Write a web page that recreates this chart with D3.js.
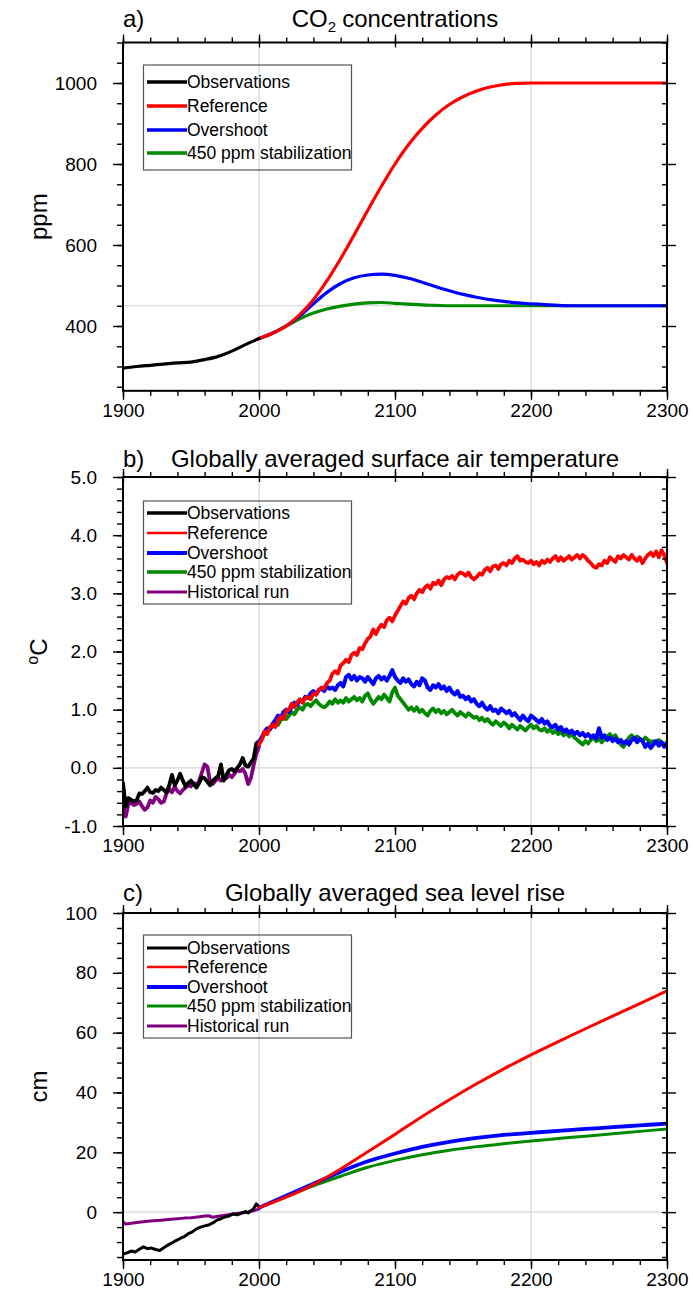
<!DOCTYPE html>
<html>
<head>
<meta charset="utf-8">
<script src="https://cdn.jsdelivr.net/npm/d3@7"></script>
<style>
  body { margin: 0; background: #fff; }
  svg { display: block; font-family: "Liberation Sans", Arial, Helvetica, sans-serif; }
</style>
</head>
<body>
<script>
/* ---------- a) CO2 concentrations (ppm) ---------- */
const co2ObsYears = [1900, 1910, 1920, 1930, 1940, 1950, 1960, 1970, 1980, 1990, 2000]
const co2Obs = [296, 300, 303, 306, 309, 311, 317, 325, 338, 354, 369]

const co2ScenYears = d3.range(2000, 2301, 10)
const co2Ref = [369, 382, 400, 428, 465, 512, 566, 625, 686, 745,
                800, 848, 888, 921, 947, 966, 980, 990, 996, 999,
                1000, 1000, 1000, 1000, 1000, 1000, 1000, 1000, 1000, 1000, 1000]
const co2Over = [369, 382, 400, 425, 455, 483, 505, 519, 526, 528,
                 525, 518, 508, 497, 487, 478, 471, 465, 461, 457,
                 455, 453, 451, 450, 450, 450, 450, 450, 450, 450, 450]
const co2Stab = [369, 383, 400, 418, 432, 442, 449, 454, 457, 458,
                 456, 454, 452, 451, 450, 450, 450, 450, 450, 450,
                 450, 450, 450, 450, 450, 450, 450, 450, 450, 450, 450]

/* ---------- b) surface air temperature (deg C) ---------- */
const tempPastYears = d3.range(1900, 2001, 2)
const tempObs = [-0.26, -0.66, -0.52, -0.55, -0.58, -0.56, -0.44, -0.45, -0.40, -0.34,
                 -0.42, -0.43, -0.38, -0.40, -0.34, -0.38, -0.42, -0.30, -0.12, -0.30,
                 -0.22, -0.10, -0.22, -0.32, -0.26, -0.22, -0.28, -0.34, -0.26, -0.16,
                 -0.18, -0.24, -0.30, -0.22, -0.18, -0.14, 0.06, -0.22, -0.12, -0.04,
                 -0.02, -0.06, 0.00, 0.06, 0.17, 0.04, 0.02, 0.09, 0.16, 0.42,
                 0.46]
const tempHist = [-0.34, -0.84, -0.62, -0.60, -0.64, -0.62, -0.58, -0.66, -0.72, -0.68,
                  -0.56, -0.60, -0.50, -0.54, -0.60, -0.58, -0.44, -0.36, -0.42, -0.32,
                  -0.40, -0.44, -0.38, -0.34, -0.30, -0.32, -0.26, -0.30, -0.22, -0.08,
                  0.06, 0.02, -0.24, -0.28, -0.22, -0.18, -0.22, -0.14, -0.18, -0.12,
                  -0.16, -0.10, -0.04, -0.06, -0.02, -0.10, -0.28, -0.18, 0.04, 0.24,
                  0.36]

const tempScenYears = d3.range(2000, 2301, 2)
const tempRef = [0.40, 0.48, 0.62, 0.58, 0.70, 0.74, 0.70, 0.82, 0.88, 0.84,
                 0.98, 1.00, 1.10, 1.04, 1.12, 1.18, 1.12, 1.20, 1.22, 1.18,
                 1.28, 1.26, 1.34, 1.38, 1.36, 1.46, 1.50, 1.62, 1.66, 1.62,
                 1.76, 1.80, 1.86, 1.82, 1.94, 1.98, 1.94, 2.06, 2.04, 2.14,
                 2.22, 2.26, 2.38, 2.30, 2.40, 2.46, 2.42, 2.54, 2.58, 2.52,
                 2.62, 2.70, 2.78, 2.86, 2.82, 2.92, 2.96, 2.90, 3.00, 3.06,
                 3.02, 3.10, 3.14, 3.08, 3.18, 3.16, 3.22, 3.14, 3.24, 3.28,
                 3.26, 3.30, 3.24, 3.32, 3.36, 3.34, 3.30, 3.36, 3.28, 3.24,
                 3.28, 3.34, 3.32, 3.40, 3.44, 3.38, 3.46, 3.48, 3.42, 3.50,
                 3.52, 3.48, 3.56, 3.52, 3.60, 3.64, 3.56, 3.58, 3.54, 3.52,
                 3.56, 3.50, 3.54, 3.48, 3.56, 3.52, 3.58, 3.54, 3.60, 3.64,
                 3.56, 3.62, 3.56, 3.60, 3.64, 3.58, 3.62, 3.66, 3.60, 3.66,
                 3.62, 3.56, 3.52, 3.46, 3.44, 3.50, 3.48, 3.56, 3.52, 3.62,
                 3.58, 3.54, 3.64, 3.60, 3.66, 3.62, 3.58, 3.66, 3.60, 3.56,
                 3.62, 3.52, 3.60, 3.66, 3.70, 3.64, 3.72, 3.62, 3.74, 3.66,
                 3.52]
const tempOver = [0.44, 0.52, 0.62, 0.68, 0.66, 0.76, 0.82, 0.90, 0.86, 0.96,
                  1.00, 0.96, 1.06, 1.12, 1.08, 1.16, 1.14, 1.22, 1.20, 1.28,
                  1.32, 1.26, 1.34, 1.36, 1.32, 1.40, 1.36, 1.38, 1.34, 1.42,
                  1.46, 1.40, 1.56, 1.60, 1.52, 1.58, 1.50, 1.56, 1.54, 1.48,
                  1.56, 1.50, 1.44, 1.54, 1.58, 1.52, 1.56, 1.50, 1.58, 1.68,
                  1.56, 1.50, 1.46, 1.54, 1.48, 1.52, 1.44, 1.40, 1.48, 1.42,
                  1.54, 1.50, 1.38, 1.34, 1.42, 1.38, 1.44, 1.36, 1.40, 1.32,
                  1.38, 1.30, 1.26, 1.32, 1.22, 1.24, 1.18, 1.22, 1.14, 1.18,
                  1.10, 1.06, 1.12, 1.04, 1.00, 1.06, 0.98, 1.00, 0.94, 1.02,
                  0.98, 0.94, 0.98, 0.90, 0.94, 0.88, 0.82, 0.90, 0.84, 0.80,
                  0.90, 0.86, 0.82, 0.78, 0.84, 0.76, 0.80, 0.72, 0.70, 0.74,
                  0.66, 0.70, 0.62, 0.66, 0.60, 0.64, 0.58, 0.62, 0.56, 0.60,
                  0.54, 0.58, 0.52, 0.56, 0.50, 0.68, 0.52, 0.56, 0.48, 0.52,
                  0.46, 0.50, 0.44, 0.48, 0.42, 0.46, 0.40, 0.48, 0.52, 0.44,
                  0.50, 0.46, 0.36, 0.42, 0.34, 0.40, 0.46, 0.38, 0.44, 0.36,
                  0.42]
const tempStab = [0.42, 0.50, 0.58, 0.62, 0.66, 0.72, 0.76, 0.74, 0.82, 0.86,
                  0.84, 0.90, 0.96, 0.92, 1.00, 1.04, 1.00, 1.08, 1.10, 1.06,
                  1.12, 1.16, 1.10, 1.06, 1.04, 1.08, 1.14, 1.10, 1.18, 1.12,
                  1.16, 1.12, 1.20, 1.14, 1.18, 1.22, 1.16, 1.20, 1.14, 1.24,
                  1.28, 1.18, 1.10, 1.16, 1.22, 1.18, 1.26, 1.20, 1.14, 1.30,
                  1.38, 1.24, 1.18, 1.12, 1.06, 1.00, 1.04, 0.98, 1.04, 0.96,
                  1.00, 0.94, 0.90, 0.98, 1.02, 0.96, 1.00, 0.94, 0.98, 0.92,
                  0.96, 1.00, 0.94, 0.90, 0.96, 0.92, 0.88, 0.94, 0.90, 0.86,
                  0.88, 0.82, 0.86, 0.80, 0.84, 0.78, 0.74, 0.80, 0.76, 0.72,
                  0.78, 0.74, 0.68, 0.74, 0.70, 0.66, 0.72, 0.68, 0.64, 0.70,
                  0.74, 0.68, 0.72, 0.66, 0.64, 0.68, 0.62, 0.66, 0.60, 0.64,
                  0.58, 0.62, 0.56, 0.60, 0.54, 0.58, 0.52, 0.48, 0.44, 0.40,
                  0.46, 0.42, 0.48, 0.52, 0.46, 0.50, 0.44, 0.50, 0.54, 0.58,
                  0.52, 0.56, 0.48, 0.40, 0.36, 0.44, 0.52, 0.56, 0.48, 0.54,
                  0.50, 0.46, 0.52, 0.48, 0.44, 0.46, 0.42, 0.48, 0.44, 0.40,
                  0.44]

/* ---------- c) sea level rise (cm) ---------- */
const seaObsYears = [1900, 1903, 1906, 1909, 1912, 1915, 1918, 1921, 1924, 1927,
                     1930, 1933, 1936, 1939, 1942, 1945, 1948, 1951, 1954, 1957,
                     1960, 1963, 1966, 1969, 1972, 1975, 1978, 1981, 1984, 1987,
                     1990, 1992, 1994, 1996, 1998, 2000]
const seaObs = [-14.0, -13.6, -13.0, -13.3, -12.4, -11.6, -12.2, -12.0, -12.5, -12.8,
                -11.9, -11.0, -10.3, -9.5, -8.8, -8.2, -7.2, -6.6, -5.6, -5.0,
                -4.6, -4.3, -3.6, -2.7, -2.2, -1.6, -1.3, -0.6, -0.9, -0.3,
                0.2, -0.3, 0.5, 1.1, 2.8, 1.8]
const seaHistYears = [1900, 1902, 1905, 1910, 1915, 1920, 1925, 1930, 1935, 1940, 1945, 1950,
                      1955, 1960, 1963, 1966, 1970, 1975, 1980, 1985, 1990, 1995, 2000]
const seaHist = [-3.2, -4.0, -3.8, -3.5, -3.2, -3.0, -2.8, -2.6, -2.4, -2.2, -2.0, -1.9,
                 -1.6, -1.3, -1.2, -1.7, -1.4, -1.0, -0.7, -0.4, -0.1, 0.4, 1.0]

const seaScenYears = d3.range(2000, 2301, 20)
const seaRef = [1.5, 5.0, 9.2, 14.4, 20.2, 26.0, 32.0, 37.6, 42.9, 47.9, 52.6, 57.0, 61.3, 65.5, 69.7, 74.0]
const seaOver = [1.5, 5.5, 9.5, 13.5, 17.0, 19.6, 21.8, 23.5, 24.8, 25.8, 26.5, 27.2, 27.8, 28.4, 29.0, 29.6]
const seaStab = [1.5, 5.2, 8.8, 12.0, 15.0, 17.3, 19.2, 20.7, 21.9, 22.9, 23.8, 24.6, 25.4, 26.2, 27.0, 27.8]

/* ---------- shared ---------- */
const legendNames = ["Observations", "Reference", "Overshoot", "450 ppm stabilization", "Historical run"]
const xMajor = [1900, 2000, 2100, 2200, 2300]
const gridYears = [2000, 2200]

const colors = {
    obs: "#000000",
    ref: "#ff0000",
    over: "#0000ff",
    stab: "#008a00",
    hist: "#800080"
}

const svgWidth = 693
const svgHeight = 1304
const left = 123
const right = 667
const fontTick = 19
const fontTitle = 24

const svg = d3.select("body").append("svg")
    .attr("width", svgWidth)
    .attr("height", svgHeight)

const xScale = d3.scaleLinear()
    .domain([1900, 2300])
    .range([left, right])

const xMinor = d3.range(1900, 2301, 20)

const panels = [
    {
        id: "a", letter: "a)", top: 42.5, bottom: 390.8, titleY: 27,
        yDomain: [240, 1100], yMajor: [400, 600, 800, 1000], yMinor: d3.range(250, 1101, 50),
        yFormat: d3.format("d"), hLine: 450, yTitle: "ppm",
        legendTop: 65, legendHeight: 105, legendRows: [82, 106, 130, 153],
        legendWidths: [3.5, 3.5, 3.5, 3.5],
        series: [
            {key: "stab", years: co2ScenYears, values: co2Stab, width: 3.2, smooth: true},
            {key: "over", years: co2ScenYears, values: co2Over, width: 3.2, smooth: true},
            {key: "ref", years: co2ScenYears, values: co2Ref, width: 3.2, smooth: true},
            {key: "obs", years: co2ObsYears, values: co2Obs, width: 3.2, smooth: true}
        ],
        legendKeys: ["obs", "ref", "over", "stab"]
    },
    {
        id: "b", letter: "b)", top: 477, bottom: 826, titleY: 467,
        yDomain: [-1, 5], yMajor: [-1, 0, 1, 2, 3, 4, 5], yMinor: d3.range(-10, 51, 2).map((v) => v / 10),
        yFormat: (d) => d.toFixed(1), hLine: 0, yTitle: "C",
        legendTop: 501, legendHeight: 103, legendRows: [513, 533, 553, 572, 592],
        legendWidths: [3.5, 2.5, 4, 3.5, 3],
        series: [
            {key: "hist", years: tempPastYears, values: tempHist, width: 3.8},
            {key: "obs", years: tempPastYears, values: tempObs, width: 3.8},
            {key: "stab", years: tempScenYears, values: tempStab, width: 3.8},
            {key: "over", years: tempScenYears, values: tempOver, width: 4},
            {key: "ref", years: tempScenYears, values: tempRef, width: 3.8}
        ],
        legendKeys: ["obs", "ref", "over", "stab", "hist"]
    },
    {
        id: "c", letter: "c)", top: 913, bottom: 1260, titleY: 901,
        yDomain: [-16, 100], yMajor: [0, 20, 40, 60, 80, 100], yMinor: d3.range(-15, 101, 5),
        yFormat: d3.format("d"), hLine: 0, yTitle: "cm",
        legendTop: 935, legendHeight: 103, legendRows: [948, 967, 987, 1006, 1026],
        legendWidths: [3, 2.5, 4, 3, 3],
        series: [
            {key: "hist", years: seaHistYears, values: seaHist, width: 3},
            {key: "obs", years: seaObsYears, values: seaObs, width: 3},
            {key: "stab", years: seaScenYears, values: seaStab, width: 3, smooth: true},
            {key: "over", years: seaScenYears, values: seaOver, width: 3.8, smooth: true},
            {key: "ref", years: seaScenYears, values: seaRef, width: 3, smooth: true}
        ],
        legendKeys: ["obs", "ref", "over", "stab", "hist"]
    }
]

const nameOf = {obs: legendNames[0], ref: legendNames[1], over: legendNames[2], stab: legendNames[3], hist: legendNames[4]}

/* strip d3 default styling from an axis group */
const styleAxis = (sel) => {
    sel.attr("font-family", null).attr("font-size", fontTick)
    sel.select(".domain").remove()
    sel.selectAll(".tick line").attr("stroke", "#000").attr("stroke-width", 1.4)
    sel.selectAll(".tick text").attr("fill", "#000")
}

const drawPanel = (p) => {
    const g = svg.append("g").attr("id", "panel-" + p.id)

    const yScale = d3.scaleLinear()
        .domain(p.yDomain)
        .range([p.bottom, p.top])

    /* grey reference lines */
    g.append("g").selectAll("line")
        .data(gridYears)
        .enter()
        .append("line")
        .attr("x1", (d) => xScale(d))
        .attr("x2", (d) => xScale(d))
        .attr("y1", p.top)
        .attr("y2", p.bottom)
        .attr("stroke", "#d4d4d4")
        .attr("stroke-width", 1.2)

    g.append("line")
        .attr("x1", left)
        .attr("x2", right)
        .attr("y1", yScale(p.hLine))
        .attr("y2", yScale(p.hLine))
        .attr("stroke", "#d4d4d4")
        .attr("stroke-width", 1.2)

    /* legend */
    const legend = g.append("g")
    legend.append("rect")
        .attr("x", 143.5)
        .attr("y", p.legendTop)
        .attr("width", 208)
        .attr("height", p.legendHeight)
        .attr("fill", "none")
        .attr("stroke", "#555")
        .attr("stroke-width", 1.2)

    const rows = legend.selectAll(".row")
        .data(p.legendKeys)
        .enter()
        .append("g")
        .attr("class", "row")
        .attr("transform", (d, i) => `translate(0, ${p.legendRows[i]})`)

    rows.append("line")
        .attr("x1", 147)
        .attr("x2", 187)
        .attr("stroke", (d) => colors[d])
        .attr("stroke-width", (d, i) => p.legendWidths[i])

    rows.append("text")
        .attr("x", 187)
        .attr("dy", "0.36em")
        .attr("font-size", 17.5)
        .text((d) => nameOf[d])

    /* curves */
    svg.append("clipPath")
        .attr("id", "clip-" + p.id)
        .append("rect")
        .attr("x", left)
        .attr("y", p.top)
        .attr("width", right - left)
        .attr("height", p.bottom - p.top)

    const curves = g.append("g").attr("clip-path", `url(#clip-${p.id})`)
    p.series.forEach((s) => {
        const line = d3.line()
            .x((d) => xScale(d[0]))
            .y((d) => yScale(d[1]))
            .curve(s.smooth ? d3.curveMonotoneX : d3.curveLinear)
        curves.append("path")
            .datum(d3.zip(s.years, s.values))
            .attr("d", line)
            .attr("fill", "none")
            .attr("stroke", colors[s.key])
            .attr("stroke-width", s.width)
            .attr("stroke-linejoin", "round")
            .attr("stroke-linecap", "round")
    })

    /* axes: bottom */
    g.append("g")
        .attr("transform", `translate(0, ${p.bottom})`)
        .call(d3.axisBottom(xScale).tickValues(xMajor).tickSize(9).tickPadding(4).tickFormat(d3.format("d")))
        .call(styleAxis)
    g.append("g")
        .attr("transform", `translate(0, ${p.bottom})`)
        .call(d3.axisBottom(xScale).tickValues(xMinor).tickSize(5).tickFormat(""))
        .call(styleAxis)

    /* top */
    g.append("g")
        .attr("transform", `translate(0, ${p.top})`)
        .call(d3.axisTop(xScale).tickValues(xMinor).tickSize(5).tickFormat(""))
        .call(styleAxis)
    g.append("g")
        .attr("transform", `translate(0, ${p.top})`)
        .call(d3.axisTop(xScale).tickValues(xMajor).tickSize(8).tickFormat(""))
        .call(styleAxis)
    g.append("g")
        .attr("transform", `translate(0, ${p.top})`)
        .call(d3.axisBottom(xScale).tickValues(xMajor).tickSize(5).tickFormat(""))
        .call(styleAxis)

    /* left */
    g.append("g")
        .attr("transform", `translate(${left}, 0)`)
        .call(d3.axisLeft(yScale).tickValues(p.yMajor).tickSize(10).tickPadding(16).tickFormat(p.yFormat))
        .call(styleAxis)
    g.append("g")
        .attr("transform", `translate(${left}, 0)`)
        .call(d3.axisLeft(yScale).tickValues(p.yMinor).tickSize(6).tickFormat(""))
        .call(styleAxis)

    /* right */
    g.append("g")
        .attr("transform", `translate(${right}, 0)`)
        .call(d3.axisLeft(yScale).tickValues(p.yMinor).tickSize(5).tickFormat(""))
        .call(styleAxis)
    g.append("g")
        .attr("transform", `translate(${right}, 0)`)
        .call(d3.axisRight(yScale).tickValues(p.yMajor).tickSize(9).tickFormat(""))
        .call(styleAxis)

    /* frame */
    g.append("rect")
        .attr("x", left)
        .attr("y", p.top)
        .attr("width", right - left)
        .attr("height", p.bottom - p.top)
        .attr("fill", "none")
        .attr("stroke", "#000")
        .attr("stroke-width", 2)

    /* y axis title */
    const yTitle = svg.append("text")
        .attr("transform", `translate(47, ${(p.top + p.bottom) / 2}) rotate(-90)`)
        .attr("text-anchor", "middle")
        .attr("font-size", fontTitle)
    if (p.id === "b") {
        yTitle.append("tspan").attr("font-size", 16).attr("dy", -9).text("o")
        yTitle.append("tspan").attr("dy", 9).text("C")
    } else {
        yTitle.text(p.yTitle)
    }

    /* panel letter */
    svg.append("text")
        .attr("x", left)
        .attr("y", p.titleY)
        .attr("font-size", fontTitle)
        .text(p.letter)

    return g
}

panels.forEach(drawPanel)

/* titles */
const centerX = (left + right) / 2

const titleA = svg.append("text")
    .attr("x", centerX)
    .attr("y", panels[0].titleY)
    .attr("text-anchor", "middle")
    .attr("font-size", fontTitle)
titleA.append("tspan").text("CO")
titleA.append("tspan").attr("font-size", 15).attr("dy", 5).text("2")
titleA.append("tspan").attr("dy", -5).attr("dx", 6).text("concentrations")

svg.append("text")
    .attr("x", centerX)
    .attr("y", panels[1].titleY)
    .attr("text-anchor", "middle")
    .attr("font-size", fontTitle)
    .text("Globally averaged surface air temperature")

svg.append("text")
    .attr("x", centerX)
    .attr("y", panels[2].titleY)
    .attr("text-anchor", "middle")
    .attr("font-size", fontTitle)
    .text("Globally averaged sea level rise")
</script>
</body>
</html>
